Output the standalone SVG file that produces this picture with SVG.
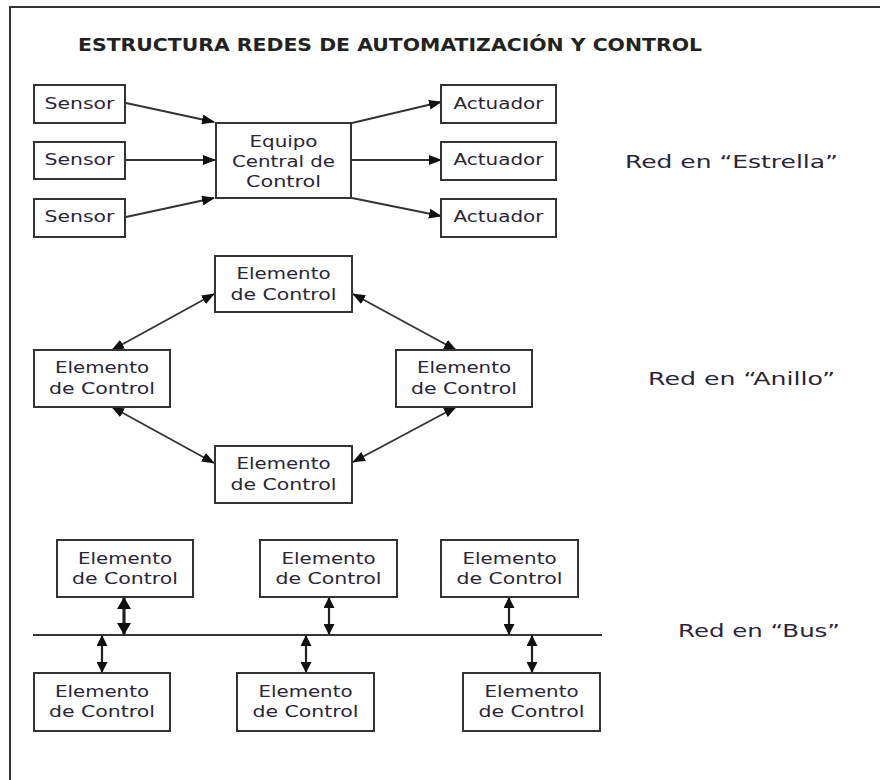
<svg xmlns="http://www.w3.org/2000/svg" width="880" height="780" viewBox="0 0 880 780">
<style>
.frame{fill:none;stroke:#333;stroke-width:2}
.box{fill:#fff;stroke:#333;stroke-width:2}
.t{font-family:"DejaVu Sans","Verdana",sans-serif;font-size:16px;fill:#2a2438;text-anchor:middle}
.lbl{font-family:"DejaVu Sans","Verdana",sans-serif;font-size:18px;fill:#2a2438}
.title{font-family:"DejaVu Sans","Verdana",sans-serif;font-size:17px;font-weight:bold;fill:#222}
.c{fill:none;stroke:#333;stroke-width:1.8}
.c1{marker-end:url(#ah)}
.c2{marker-start:url(#ah);marker-end:url(#ah)}
.cb{fill:none;stroke:#222;stroke-width:2.2;marker-start:url(#ahb);marker-end:url(#ahb)}
.cbb{fill:none;stroke:#222;stroke-width:3.2;marker-start:url(#ahb2);marker-end:url(#ahb2)}
</style>
<defs>
<marker id="ah" markerUnits="userSpaceOnUse" viewBox="0 0 13 10" refX="12" refY="5" markerWidth="13" markerHeight="10" orient="auto-start-reverse"><path d="M0,0 L13,5 L0,10 z" fill="#111"/></marker>
<marker id="ahb" markerUnits="userSpaceOnUse" viewBox="0 0 11 11" refX="10" refY="5.5" markerWidth="11" markerHeight="11" orient="auto-start-reverse"><path d="M0,0 L11,5.5 L0,11 z" fill="#111"/></marker>
<marker id="ahb2" markerUnits="userSpaceOnUse" viewBox="0 0 12 14" refX="11" refY="7" markerWidth="12" markerHeight="14" orient="auto-start-reverse"><path d="M0,0 L12,7 L0,14 z" fill="#111"/></marker>
</defs>
<rect width="880" height="780" fill="#fff"/>
<path class="frame" d="M10,780 L10,7 L880,7"/>
<text class="title" x="78" y="51" textLength="624" lengthAdjust="spacingAndGlyphs">ESTRUCTURA REDES DE AUTOMATIZACIÓN Y CONTROL</text>

<g id="connectors">
<line class="c c1" x1="126" y1="103" x2="214" y2="122"/>
<line class="c c1" x1="126" y1="160" x2="215" y2="160"/>
<line class="c c1" x1="126" y1="217" x2="214" y2="198"/>
<line class="c c1" x1="352" y1="123" x2="441" y2="102"/>
<line class="c c1" x1="352" y1="160" x2="441" y2="160"/>
<line class="c c1" x1="352" y1="198" x2="441" y2="216"/>
<line class="c c2" x1="214" y1="294" x2="112" y2="350"/>
<line class="c c2" x1="112" y1="407" x2="214" y2="463"/>
<line class="c c2" x1="353" y1="294" x2="456" y2="350"/>
<line class="c c2" x1="456" y1="407" x2="353" y2="462"/>
<line x1="33" y1="635" x2="602" y2="635" stroke="#333" stroke-width="2"/>
<line class="cbb" x1="124" y1="598" x2="124" y2="634"/>
<line class="cb" x1="329" y1="598" x2="329" y2="634"/>
<line class="cb" x1="509" y1="598" x2="509" y2="634"/>
<line class="cb" x1="102" y1="636" x2="102" y2="672"/>
<line class="cb" x1="306" y1="636" x2="306" y2="672"/>
<line class="cb" x1="532" y1="636" x2="532" y2="672"/>
</g>

<g id="sensor1"><rect class="box" x="34" y="85" width="91" height="38"/><text class="t" x="79.5" y="109" textLength="70" lengthAdjust="spacingAndGlyphs">Sensor</text></g>
<g id="sensor2"><rect class="box" x="34" y="142" width="91" height="37"/><text class="t" x="79.5" y="165" textLength="70" lengthAdjust="spacingAndGlyphs">Sensor</text></g>
<g id="sensor3"><rect class="box" x="34" y="199" width="91" height="38"/><text class="t" x="79.5" y="222" textLength="70" lengthAdjust="spacingAndGlyphs">Sensor</text></g>
<g id="central"><rect class="box" x="216" y="123" width="135" height="75"/>
<text class="t" x="283.5" y="147" textLength="68" lengthAdjust="spacingAndGlyphs">Equipo</text>
<text class="t" x="283.5" y="167" textLength="103" lengthAdjust="spacingAndGlyphs">Central de</text>
<text class="t" x="283.5" y="187" textLength="75" lengthAdjust="spacingAndGlyphs">Control</text></g>
<g id="actuador1"><rect class="box" x="441" y="85" width="115" height="38"/><text class="t" x="498.5" y="109" textLength="90" lengthAdjust="spacingAndGlyphs">Actuador</text></g>
<g id="actuador2"><rect class="box" x="441" y="142" width="115" height="38"/><text class="t" x="498.5" y="165" textLength="90" lengthAdjust="spacingAndGlyphs">Actuador</text></g>
<g id="actuador3"><rect class="box" x="441" y="199" width="115" height="38"/><text class="t" x="498.5" y="222" textLength="90" lengthAdjust="spacingAndGlyphs">Actuador</text></g>
<text class="lbl" x="625" y="168" textLength="213" lengthAdjust="spacingAndGlyphs">Red en “Estrella”</text>

<g id="ring-top"><rect class="box" x="215" y="256" width="137" height="56"/>
<text class="t" x="283.5" y="279" textLength="94" lengthAdjust="spacingAndGlyphs">Elemento</text>
<text class="t" x="283.5" y="300" textLength="106" lengthAdjust="spacingAndGlyphs">de Control</text></g>
<g id="ring-left"><rect class="box" x="34" y="350" width="136" height="57"/>
<text class="t" x="102" y="373" textLength="94" lengthAdjust="spacingAndGlyphs">Elemento</text>
<text class="t" x="102" y="394" textLength="106" lengthAdjust="spacingAndGlyphs">de Control</text></g>
<g id="ring-right"><rect class="box" x="396" y="350" width="136" height="57"/>
<text class="t" x="464" y="373" textLength="94" lengthAdjust="spacingAndGlyphs">Elemento</text>
<text class="t" x="464" y="394" textLength="106" lengthAdjust="spacingAndGlyphs">de Control</text></g>
<g id="ring-bottom"><rect class="box" x="215" y="446" width="137" height="57"/>
<text class="t" x="283.5" y="469" textLength="94" lengthAdjust="spacingAndGlyphs">Elemento</text>
<text class="t" x="283.5" y="490" textLength="106" lengthAdjust="spacingAndGlyphs">de Control</text></g>
<text class="lbl" x="648" y="385" textLength="187" lengthAdjust="spacingAndGlyphs">Red en “Anillo”</text>

<g id="bus-top1"><rect class="box" x="57" y="540" width="136" height="57"/>
<text class="t" x="125" y="564" textLength="94" lengthAdjust="spacingAndGlyphs">Elemento</text>
<text class="t" x="125" y="584" textLength="106" lengthAdjust="spacingAndGlyphs">de Control</text></g>
<g id="bus-top2"><rect class="box" x="260" y="540" width="137" height="57"/>
<text class="t" x="328.5" y="564" textLength="94" lengthAdjust="spacingAndGlyphs">Elemento</text>
<text class="t" x="328.5" y="584" textLength="106" lengthAdjust="spacingAndGlyphs">de Control</text></g>
<g id="bus-top3"><rect class="box" x="441" y="540" width="137" height="57"/>
<text class="t" x="509.5" y="564" textLength="94" lengthAdjust="spacingAndGlyphs">Elemento</text>
<text class="t" x="509.5" y="584" textLength="106" lengthAdjust="spacingAndGlyphs">de Control</text></g>
<g id="bus-bottom1"><rect class="box" x="34" y="673" width="136" height="58"/>
<text class="t" x="102" y="697" textLength="94" lengthAdjust="spacingAndGlyphs">Elemento</text>
<text class="t" x="102" y="717" textLength="106" lengthAdjust="spacingAndGlyphs">de Control</text></g>
<g id="bus-bottom2"><rect class="box" x="237" y="673" width="137" height="58"/>
<text class="t" x="305.5" y="697" textLength="94" lengthAdjust="spacingAndGlyphs">Elemento</text>
<text class="t" x="305.5" y="717" textLength="106" lengthAdjust="spacingAndGlyphs">de Control</text></g>
<g id="bus-bottom3"><rect class="box" x="463" y="673" width="137" height="58"/>
<text class="t" x="531.5" y="697" textLength="94" lengthAdjust="spacingAndGlyphs">Elemento</text>
<text class="t" x="531.5" y="717" textLength="106" lengthAdjust="spacingAndGlyphs">de Control</text></g>
<text class="lbl" x="678" y="637" textLength="162" lengthAdjust="spacingAndGlyphs">Red en “Bus”</text>
</svg>
